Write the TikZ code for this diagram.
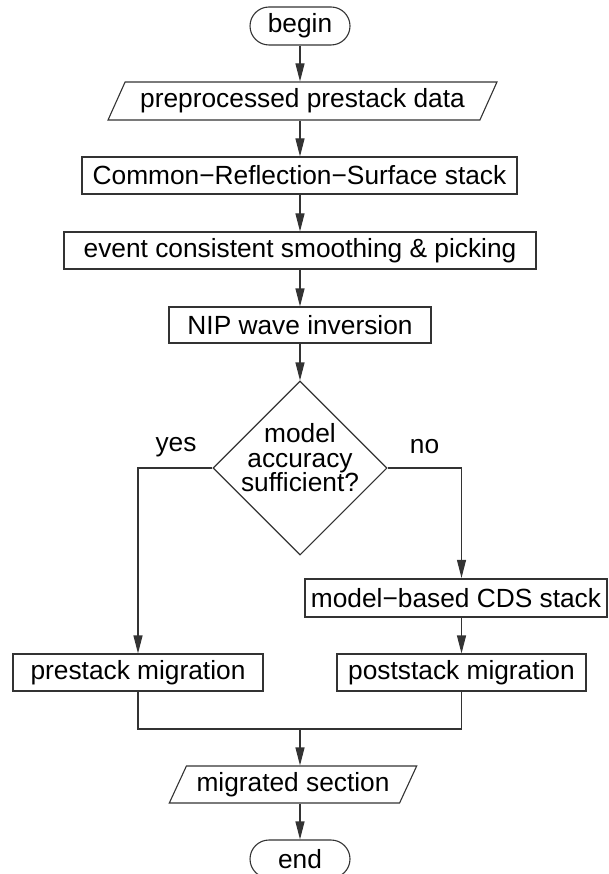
\documentclass[tikz,border=0pt]{standalone}
\usepackage{fontspec}
\setmainfont{Liberation Sans}
\usetikzlibrary{arrows.meta,shapes.geometric}
\tikzset{
	every node/.style={font=\fontsize{26.3}{24.5}\selectfont, text=black},
	line/.style={draw=black!80, line width=1.1pt},
	arr/.style={line, -{Triangle[length=18pt,width=9pt]}},
	box/.style={line, rectangle, inner sep=2pt, minimum height=37pt},
	term/.style={box, rounded corners=19pt, minimum width=100pt, minimum height=38pt},
	io/.style={line, trapezium, trapezium left angle=61, trapezium right angle=119,
		trapezium stretches=true, inner sep=2pt},
	test/.style={line, diamond, inner sep=0pt, minimum width=174pt, minimum height=174pt},
}
\begin{document}
\lineskiplimit=-20pt
\begin{tikzpicture}[x=1pt,y=-1pt]
	\useasboundingbox (0,0) rectangle (608,874);
	% main column
	\node[term] (begin) at (300,26) {begin};
	\node[io, minimum width=391pt, minimum height=38pt] (pre) at (302.5,101) {preprocessed prestack data};
	\node[box, minimum width=435pt] (crs) at (299.5,175.5) {Common−Reflection−Surface stack};
	\node[box, minimum width=472pt] (ecs) at (300,250.5) {event consistent smoothing \& picking};
	\node[box, minimum width=262pt, minimum height=36pt] (nip) at (300,325) {NIP wave inversion};
	\node[test] (mdl) at (300,468) {};
	\node[align=center] (mdltext) at (300,458) {model\\accuracy\\sufficient?};
	\foreach \a/\b in {begin/pre, pre/crs, crs/ecs, ecs/nip, nip/mdl}
		\draw[arr] (begin |- \a.south) -- (begin |- \b.north);
	% yes branch
	\node[box, minimum width=250pt] (prem) at (138,672.5) {prestack migration};
	\draw[arr] (mdl.west) -| (prem.north);
	\node (yes) at (176,447) {yes};
	% no branch
	\node[box, line width=2.2pt, minimum width=302pt, minimum height=38pt] (cds) at (456,598) {model−based CDS stack};
	\node[box, minimum width=249pt] (post) at (461.5,672.5) {poststack migration};
	\draw[arr] (mdl.east) -| (post.north |- cds.north);
	\draw[arr] (post.north |- cds.south) -- (post.north);
	\node (no) at (424.5,447) {no};
	% merge
	\coordinate (join) at (300,729);
	\draw[line] (prem.south) |- (join) -| (post.south);
	\node[io, minimum width=248pt, minimum height=37pt] (mig) at (293,784.5) {migrated section};
	\node[term] (end) at (300,859) {end};
	\draw[arr] (join) -- (join |- mig.north);
	\draw[arr] (join |- mig.south) -- (join |- end.north);
\end{tikzpicture}
\end{document}
